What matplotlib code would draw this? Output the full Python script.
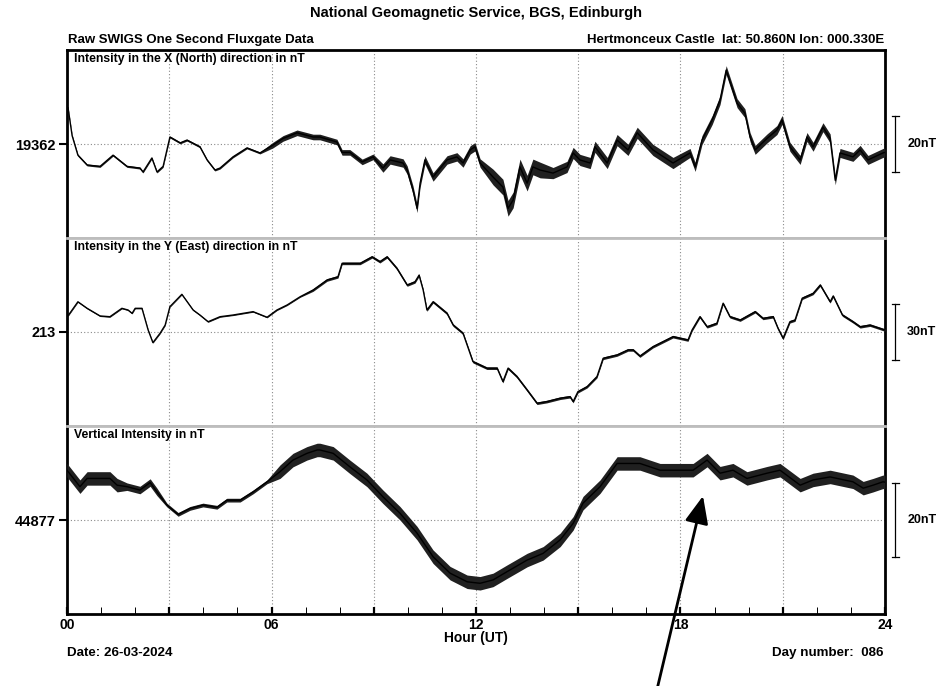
import numpy as np
import matplotlib
matplotlib.use("Agg")
import matplotlib.pyplot as plt
from matplotlib.patches import FancyArrowPatch
from matplotlib.ticker import FixedLocator, FixedFormatter

plt.rcParams['font.family'] = ['Liberation Sans', 'DejaVu Sans']
plt.rcParams['font.weight'] = 'bold'
plt.rcParams['axes.labelweight'] = 'bold'

# ---------------- X (North) component, nT ----------------
x_hours = [0.00, 0.03, 0.15, 0.32, 0.59, 0.97, 1.35, 1.76, 2.14, 2.23, 2.49, 2.64,
           2.82, 3.02, 3.32, 3.52, 3.90, 4.11, 4.34, 4.49, 4.87, 5.28, 5.66, 6.04,
           6.34, 6.75, 7.22, 7.42, 7.92, 8.07, 8.30, 8.66, 8.98, 9.27, 9.48, 9.86,
           9.98, 10.15, 10.27, 10.36, 10.50, 10.74, 11.15, 11.44, 11.62, 11.83, 11.97,
           12.12, 12.50, 12.79, 12.94, 13.09, 13.29, 13.50, 13.67, 13.88, 14.26, 14.67,
           14.85, 15.05, 15.35, 15.49, 15.85, 16.14, 16.46, 16.73, 17.19, 17.78, 18.28,
           18.43, 18.63, 18.93, 19.16, 19.34, 19.66, 19.89, 20.04, 20.19, 20.54, 20.83,
           20.98, 21.21, 21.51, 21.71, 21.89, 22.18, 22.39, 22.54, 22.68, 23.06, 23.27,
           23.50, 23.94, 24.00]
x_nT = [19373.0, 19375.0, 19365.0, 19358.0, 19354.5, 19354.0, 19358.0, 19354.0, 19353.4,
        19352.0, 19357.0, 19352.0, 19354.0, 19364.5, 19362.4, 19363.4, 19361.0, 19356.3,
        19352.7, 19353.4, 19357.4, 19360.6, 19358.8, 19361.6, 19364.0, 19366.0, 19364.5,
        19364.5, 19362.7, 19359.0, 19359.0, 19355.6, 19357.4, 19353.4, 19356.3, 19355.2,
        19352.7, 19345.6, 19339.0, 19348.0, 19356.3, 19350.2, 19356.3, 19357.4, 19355.2,
        19359.9, 19361.0, 19355.2, 19350.2, 19346.6, 19339.0, 19342.0, 19353.8, 19348.0,
        19353.8, 19352.7, 19351.6, 19353.8, 19358.8, 19356.3, 19355.2, 19361.0, 19355.2,
        19363.4, 19359.9, 19366.0, 19359.9, 19355.2, 19358.8, 19353.8, 19363.4, 19370.6,
        19377.7, 19388.4, 19376.6, 19373.0, 19364.5, 19359.9, 19364.0, 19367.0, 19370.6,
        19361.0, 19356.3, 19364.5, 19361.0, 19368.0, 19364.0, 19349.0, 19358.8, 19357.4,
        19359.9, 19356.3, 19358.8, 19359.0]
# short-period jitter (half-width, nT) over hour ranges
x_jitter_edges = [0, 6, 9, 12.4, 14, 18, 24]
x_jitter_nT = [0.35, 1.0, 1.5, 2.8, 2.0, 1.6]

# ---------------- Y (East) component, nT ----------------
y_hours = [0.00, 0.32, 0.59, 0.97, 1.26, 1.61, 1.79, 1.91, 2.00, 2.20, 2.38, 2.52, 2.73,
           2.88, 3.02, 3.37, 3.70, 3.90, 4.14, 4.49, 4.87, 5.46, 5.87, 6.16, 6.46, 6.84,
           7.22, 7.63, 7.95, 8.07, 8.60, 8.95, 9.18, 9.39, 9.68, 9.98, 10.21, 10.33,
           10.45, 10.56, 10.74, 11.15, 11.33, 11.62, 11.91, 12.32, 12.62, 12.79, 12.94,
           13.20, 13.50, 13.79, 14.08, 14.47, 14.76, 14.85, 14.99, 15.26, 15.55, 15.73,
           16.14, 16.46, 16.61, 16.81, 17.19, 17.78, 18.22, 18.34, 18.57, 18.78, 19.07,
           19.25, 19.45, 19.75, 20.19, 20.42, 20.72, 20.86, 21.01, 21.21, 21.36, 21.57,
           21.89, 22.10, 22.39, 22.48, 22.75, 23.06, 23.27, 23.56, 23.94, 24.00]
y_nT = [220.9, 229.2, 225.7, 221.6, 221.2, 225.7, 224.8, 223.0, 225.7, 225.7, 214.1, 207.3,
        212.3, 216.7, 226.6, 233.2, 224.8, 222.1, 218.5, 221.2, 222.1, 223.9, 220.9, 224.8,
        227.5, 231.9, 235.5, 240.9, 242.6, 249.8, 249.8, 253.3, 250.7, 253.3, 247.1, 238.2,
        239.9, 243.5, 235.5, 224.8, 229.2, 223.0, 216.7, 212.3, 197.1, 193.6, 193.6, 186.4,
        193.6, 189.1, 181.9, 174.8, 175.7, 177.5, 178.3, 175.7, 181.0, 183.7, 189.1, 198.9,
        200.7, 203.4, 203.4, 200.1, 205.1, 210.5, 208.7, 214.1, 221.2, 215.8, 217.7, 228.4,
        221.2, 219.4, 223.9, 220.3, 221.2, 215.0, 209.6, 218.5, 219.4, 231.1, 233.7, 238.2,
        229.2, 232.3, 222.1, 218.5, 215.8, 216.7, 214.4, 214.1]
y_jitter_edges = [0, 7, 24]
y_jitter_nT = [0.3, 0.7]

# ---------------- Z (vertical) component, nT ----------------
z_hours = [0.00, 0.38, 0.59, 0.97, 1.26, 1.47, 1.76, 2.14, 2.44, 2.64, 2.93, 3.26, 3.61,
           3.99, 4.40, 4.69, 5.08, 5.46, 5.87, 6.25, 6.63, 7.04, 7.34, 7.42, 7.81, 8.30,
           8.80, 9.27, 9.77, 10.27, 10.74, 11.24, 11.74, 12.12, 12.50, 12.91, 13.50, 13.97,
           14.47, 14.85, 15.14, 15.64, 16.14, 16.46, 16.81, 17.40, 17.99, 18.37, 18.78,
           19.16, 19.54, 19.95, 20.54, 20.92, 21.51, 21.89, 22.39, 23.06, 23.36, 23.65,
           23.94, 24.00]
z_nT = [44890.3, 44885.9, 44888.1, 44888.1, 44888.1, 44886.3, 44885.9, 44885.0, 44887.0,
        44884.5, 44881.0, 44878.5, 44880.1, 44881.0, 44880.4, 44882.3, 44882.3, 44884.5,
        44887.2, 44889.9, 44893.0, 44894.8, 44895.7, 44895.7, 44894.8, 44891.2, 44887.7,
        44883.2, 44878.8, 44873.5, 44867.2, 44862.8, 44860.5, 44860.1, 44861.0, 44863.2,
        44866.3, 44868.1, 44871.7, 44876.1, 44881.5, 44885.9, 44892.1, 44892.1, 44892.1,
        44890.3, 44890.3, 44890.3, 44893.0, 44889.5, 44890.3, 44888.1, 44889.5, 44890.3,
        44886.3, 44887.7, 44888.5, 44887.2, 44885.5, 44886.3, 44887.2, 44887.1]
z_jitter_edges = [0, 1.5, 2.7, 6, 24]
z_jitter_nT = [1.8, 1.0, 0.5, 1.8]

panel_titles = ["Intensity in the X (North) direction in nT",
                "Intensity in the Y (East) direction in nT",
                "Vertical Intensity in nT"]
panel_centres = [19362, 213, 44877]
panel_halfspans = [33.6, 50.4, 25.1]
scale_bars = [20, 30, 20]

hour_ticks = list(range(0, 25, 3))
hour_labels = ["00", "", "06", "", "12", "", "18", "", "24"]

W, H = 942, 686
fig = plt.figure(figsize=(W / 100, H / 100), dpi=100)

left, right, top, bottom = 67, 885, 50, 614
ph = (bottom - top) / 3.0

series = [(x_hours, x_nT, x_jitter_edges, x_jitter_nT),
          (y_hours, y_nT, y_jitter_edges, y_jitter_nT),
          (z_hours, z_nT, z_jitter_edges, z_jitter_nT)]

sep_col = '#bdbdbd'
grid_kw = dict(color='#8a8a8a', lw=0.8, ls=(0, (1, 2)), zorder=1)

for i, (hrs, vals, jedges, jvals) in enumerate(series):
    y0 = top + i * ph
    ax = fig.add_axes([left / W, 1 - (y0 + ph) / H, (right - left) / W, ph / H])
    c = panel_centres[i]
    ax.set_xlim(0, 24)
    ax.set_ylim(c - panel_halfspans[i], c + panel_halfspans[i])

    hrs = np.asarray(hrs)
    vals = np.asarray(vals)
    idx = np.clip(np.searchsorted(jedges, hrs, side='right') - 1, 0, len(jvals) - 1)
    half = np.asarray(jvals)[idx]
    ax.fill_between(hrs, vals - half, vals + half, color='#202020', lw=0, zorder=3)
    ax.plot(hrs, vals, color='black', lw=1.0, zorder=4)

    for h in range(3, 24, 3):
        ax.axvline(h, **grid_kw)
    ax.axhline(c, **grid_kw)

    for s in ('left', 'right'):
        ax.spines[s].set_linewidth(2.0)
        ax.spines[s].set_color('black')
    ax.spines['top'].set_color('black' if i == 0 else sep_col)
    ax.spines['top'].set_linewidth(2.0)
    ax.spines['bottom'].set_color('black' if i == 2 else sep_col)
    ax.spines['bottom'].set_linewidth(2.0)

    ax.set_yticks([c])
    ax.set_yticklabels([str(c)])
    ax.tick_params(axis='y', direction='out', length=6, width=1.5, pad=2,
                   labelsize=10.5)

    if i < 2:
        ax.set_xticks([])
    else:
        ax.xaxis.set_major_locator(FixedLocator(hour_ticks))
        ax.xaxis.set_major_formatter(FixedFormatter(hour_labels))
        ax.xaxis.set_minor_locator(FixedLocator([h for h in range(25) if h % 3]))
        ax.tick_params(axis='x', which='major', direction='in', length=5, width=1.6,
                       pad=3, labelsize=10)
        ax.tick_params(axis='x', which='minor', direction='in', length=5, width=0.7)
        ax.set_xlabel("Hour (UT)", fontsize=10, fontweight='bold', labelpad=-1)

    ax.text(0.009, 0.985, panel_titles[i], transform=ax.transAxes, ha='left', va='top',
            fontsize=8.8)

    # nT scale bar at the right
    sb = scale_bars[i]
    ax.plot([24.30, 24.30], [c - sb / 2, c + sb / 2], color='black', lw=0.9,
            clip_on=False)
    for yy in (c - sb / 2, c + sb / 2):
        ax.plot([24.20, 24.42], [yy, yy], color='black', lw=0.9, clip_on=False)
    ax.text(24.65, c, f"{sb}nT", ha='left', va='center', fontsize=9)


def ftext(x, y, s, **kw):
    fig.text(x / W, 1 - y / H, s, **kw)


ftext(476, 13, "National Geomagnetic Service, BGS, Edinburgh", ha='center', va='center',
      fontsize=10.5)
ftext(68, 40, "Raw SWIGS One Second Fluxgate Data", ha='left', va='center', fontsize=9.5)
ftext(884, 40, "Hertmonceux Castle  lat: 50.860N lon: 000.330E", ha='right',
      va='center', fontsize=9.5)
ftext(67, 653, "Date: 26-03-2024", ha='left', va='center', fontsize=9.6)
ftext(884, 653, "Day number:  086", ha='right', va='center', fontsize=9.6)

fig.add_artist(FancyArrowPatch(
    posA=(657 / W, -0.005), posB=(703 / W, 1 - 496 / H), transform=fig.transFigure,
    arrowstyle='-|>,head_length=1.05,head_width=0.45', mutation_scale=16,
    color='black', lw=2.0, shrinkA=0, shrinkB=0))

fig.savefig("out.png", dpi=100)
